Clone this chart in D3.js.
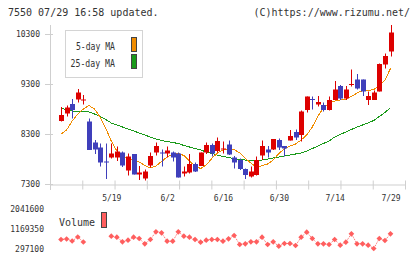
<!DOCTYPE html>
<html>
<head>
<meta charset="utf-8">
<script src="https://cdn.jsdelivr.net/npm/d3@7"></script>
<style>
body { margin: 0; background: #fff; }
svg text { font-family: "DejaVu Sans Mono", monospace; fill: #333; }
</style>
</head>
<body>
<div id="chart"></div>
<script>
// trading days shown (5/2 .. 7/29)
const dates = ["5/2","5/7","5/8","5/9","5/12","5/13","5/14","5/15","5/16","5/19",
  "5/20","5/21","5/22","5/23","5/26","5/27","5/28","5/29","5/30","6/2",
  "6/3","6/4","6/5","6/6","6/9","6/10","6/11","6/12","6/13","6/16",
  "6/17","6/18","6/19","6/20","6/23","6/24","6/25","6/26","6/27","6/30",
  "7/1","7/2","7/3","7/4","7/7","7/8","7/9","7/10","7/11","7/14",
  "7/15","7/16","7/17","7/18","7/22","7/23","7/24","7/25","7/28","7/29"];

const opens = [8560,8710,8900,8990,8970,8550,8130,8030,7750,7830,7830,7930,7570,7900,7490,7410,7670,7930,7930,7910,
  7930,7910,7510,7530,7700,7660,7930,8080,7960,8000,8090,7830,7780,7600,7450,7480,7870,7990,7990,8180,
  8060,8170,8340,8280,8780,9000,8890,8880,8780,8980,9260,9010,9290,9390,9390,8980,8980,9150,9690,9950];
const highs = [8840,8870,9000,9200,9080,8610,8180,8110,8110,8110,8050,7950,7910,7900,7660,7590,7930,8130,7990,8050,
  7950,7930,7650,7900,7730,7930,8130,8110,8230,8150,8170,7860,7810,7610,7650,7850,8170,8060,8200,8210,
  8060,8380,8390,8770,9050,9050,9060,8930,9050,9360,9280,9260,9590,9500,9390,9150,9170,9710,9910,10480];
const lows = [8550,8650,8610,8930,8890,7980,7900,7650,7400,7810,7760,7640,7470,7490,7380,7370,7630,7870,7650,7830,
  7750,7430,7450,7510,7540,7660,7900,7850,7930,7910,7880,7610,7580,7400,7430,7470,7780,7830,7980,7980,
  7850,8170,8180,8150,8730,8790,8850,8750,8770,8980,8980,8980,9250,9190,9060,8880,8980,9150,9610,9850];
const closes = [8680,8830,8780,9130,8990,7980,7990,7730,7740,7910,7950,7670,7850,7490,7530,7550,7860,8060,7920,7970,
  7830,7430,7550,7700,7550,7930,8080,7910,8160,8010,7890,7730,7600,7480,7550,7780,8060,7930,8200,8030,
  8010,8260,8230,8750,9050,8990,8940,8780,8980,9190,9010,9190,9300,9210,9150,9060,9130,9700,9860,10330];

const ma5 = [8300,8380,8560,8700,8800,8870,8800,8640,8420,8160,7960,7860,7820,7780,7740,7670,7620,7660,7750,7840,
  7900,7910,7870,7760,7660,7610,7680,7810,7920,7980,8010,7990,7920,7810,7720,7630,7670,7700,7780,7910,
  8000,8060,8100,8180,8280,8440,8660,8820,8920,8960,8980,9000,9050,9120,9170,9170,9190,9260,9380,9610];
const ma25 = [8830,8770,8760,8760,8760,8740,8700,8650,8590,8520,8480,8440,8400,8360,8320,8280,8240,8200,8170,8150,
  8130,8110,8070,8040,8010,7980,7940,7910,7880,7850,7830,7810,7790,7780,7770,7770,7780,7800,7820,7840,
  7860,7880,7900,7920,7960,8010,8060,8110,8160,8240,8290,8340,8390,8440,8480,8520,8570,8650,8730,8830];

// null = off the top of the volume pane
const volumes = [689600,711400,624200,798600,580600,null,null,null,null,833600,
  789900,589300,659100,789900,733200,502100,689600,1025400,981800,615500,
  615500,1025400,833600,789900,689600,571900,659100,689600,689600,615500,
  720200,864100,471600,502100,589300,589300,789900,471600,589300,397400,
  515200,515200,428000,789900,1008000,733200,502100,502100,471600,689600,
  441000,571900,938200,502100,502100,441000,297100,733200,646000,938200];

const priceTicks = [7300, 8300, 9300, 10300];
const volumeTicks = [297100, 1169350, 2041600];
const dateLabels = ["5/19", "6/2", "6/16", "6/30", "7/14", "7/29"];
const legendItems = ["5-day MA", "25-day MA"];
const headerLeft = "7550 07/29 16:58 updated.";
const headerRight = "(C)https://www.rizumu.net/";

const W = 420, H = 259;
const colUp = "#dd0000", colDown = "#3f3fbb";
const colMa5 = "#f08c00", colMa25 = "#1a9a1a", colVol = "#ff5e5e";
const axisCol = "#cfcfcf";

const svg = d3.select("#chart").append("svg")
    .attr("width", W)
    .attr("height", H);

// header
svg.append("text").attr("x", 8).attr("y", 16).style("font-size", "10px").text(headerLeft);
svg.append("text").attr("x", 410).attr("y", 16).attr("text-anchor", "end")
    .style("font-size", "10px").text(headerRight);

// scales
const x = d3.scalePoint().domain(dates).range([61, 390.5]);
const y = d3.scaleLinear().domain([7300, 10300]).range([184, 34]);
const yv = d3.scaleLinear().domain([297100, 2041600]).range([248.5, 208.5]);
const grid = d3.scaleLinear().domain([0, 11]).range([50, 405]);

// left axis
const yAxis = svg.append("g")
    .attr("transform", "translate(50,0)")
    .call(d3.axisLeft(y).tickValues(priceTicks).tickSizeInner(5).tickSizeOuter(0)
        .tickPadding(5).tickFormat(d3.format("d")));
yAxis.select(".domain").remove();
yAxis.selectAll(".tick line").attr("x1", 3).attr("stroke", axisCol);
yAxis.selectAll("text").style("font-size", "8px").attr("fill", "#333");
svg.append("line")
    .attr("x1", 50.5).attr("x2", 50.5).attr("y1", 25).attr("y2", 190)
    .attr("stroke", axisCol);

// bottom grid ticks
const xAxis = svg.append("g")
    .attr("transform", "translate(0,184.5)")
    .call(d3.axisBottom(grid).tickValues(d3.range(12)).tickFormat("")
        .tickSizeInner(5).tickSizeOuter(0));
xAxis.select(".domain").attr("stroke", axisCol);
xAxis.selectAll(".tick line").attr("y1", -4).attr("stroke", axisCol);

// date labels
const dAxis = svg.append("g")
    .attr("transform", "translate(0,184)")
    .call(d3.axisBottom(x).tickValues(dateLabels).tickSize(0).tickPadding(11));
dAxis.select(".domain").remove();
dAxis.selectAll("text").style("font-size", "8px").attr("fill", "#333");

// volume axis labels
const vAxis = svg.append("g")
    .attr("transform", "translate(50,0)")
    .call(d3.axisLeft(yv).tickValues(volumeTicks).tickSize(0).tickPadding(6)
        .tickFormat(d3.format("d")));
vAxis.select(".domain").remove();
vAxis.selectAll("text").style("font-size", "8px").attr("fill", "#333");

// moving averages
const maLine = d3.line()
    .x((d, i) => x(dates[i]))
    .y(d => y(d));
svg.append("path").datum(ma25)
    .attr("d", maLine).attr("fill", "none").attr("stroke", colMa25)
    .attr("stroke-width", 1).attr("shape-rendering", "crispEdges");
svg.append("path").datum(ma5)
    .attr("d", maLine).attr("fill", "none").attr("stroke", colMa5)
    .attr("stroke-width", 1).attr("shape-rendering", "crispEdges");

// candles
const candles = svg.append("g").selectAll("g")
  .data(dates.map((d, i) => ({
      date: d, open: opens[i], high: highs[i], low: lows[i], close: closes[i]
  })))
  .join("g")
    .attr("fill", d => d.close >= d.open ? colUp : colDown)
    .attr("stroke", d => d.close >= d.open ? colUp : colDown);
candles.append("line")
    .attr("x1", d => Math.round(x(d.date)) + 0.5)
    .attr("x2", d => Math.round(x(d.date)) + 0.5)
    .attr("y1", d => y(d.high))
    .attr("y2", d => y(d.low))
    .attr("stroke-width", 1);
candles.append("rect")
    .attr("x", d => Math.round(x(d.date)) - 2)
    .attr("width", 5)
    .attr("y", d => y(Math.max(d.open, d.close)))
    .attr("height", d => Math.max(1, Math.abs(y(d.open) - y(d.close))))
    .attr("stroke", "none");

// legend
const legend = svg.append("g");
legend.append("rect")
    .attr("x", 65.5).attr("y", 30.5).attr("width", 77).attr("height", 47)
    .attr("fill", "#fff").attr("stroke", "#d4d4d4");
const legendCols = [colMa5, colMa25];
const legendLen = [39, 44.5];
legendItems.forEach((t, i) => {
  legend.append("text")
      .attr("x", 115 - legendLen[i]).attr("y", 50 + i * 17)
      .attr("textLength", legendLen[i]).attr("lengthAdjust", "spacingAndGlyphs")
      .style("font-size", "11px")
      .text(t);
  legend.append("rect")
      .attr("x", 131.5).attr("y", 37.5 + i * 17).attr("width", 5).attr("height", 14)
      .attr("fill", legendCols[i]).attr("stroke", "#444");
});

// volume
const vLine = d3.line()
    .defined(d => d != null)
    .x((d, i) => x(dates[i]))
    .y(d => yv(d));
svg.append("path").datum(volumes)
    .attr("d", vLine).attr("fill", "none").attr("stroke", colVol)
    .attr("stroke-width", 1).attr("stroke-dasharray", "1,1");
svg.append("g").selectAll("path")
  .data(volumes.map((v, i) => ({ date: dates[i], v })).filter(d => d.v != null))
  .join("path")
    .attr("d", d3.symbol().type(d3.symbolSquare).size(16))
    .attr("transform", d => "translate(" + x(d.date) + "," + yv(d.v) + ") rotate(45)")
    .attr("fill", colVol);

svg.append("text").attr("x", 59).attr("y", 225.5)
    .style("font-size", "10px").text("Volume");
svg.append("rect")
    .attr("x", 101.5).attr("y", 212.5).attr("width", 5).attr("height", 15)
    .attr("fill", colVol).attr("stroke", "#444");
</script>
</body>
</html>
